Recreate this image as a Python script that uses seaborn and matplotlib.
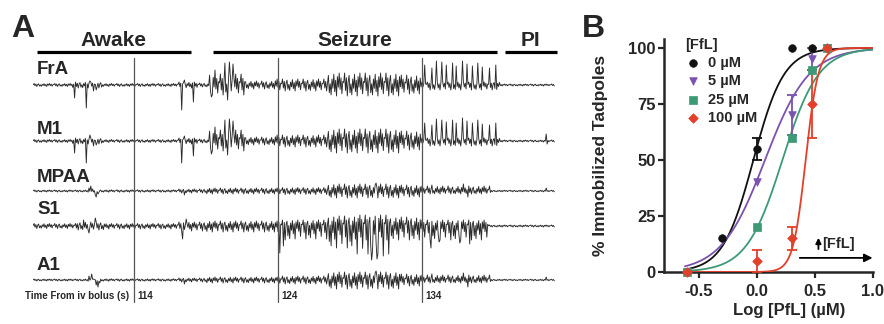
import numpy as np
import pandas as pd
import matplotlib.pyplot as plt
import seaborn as sns

# ---------------- panel A data (amplitudes in px) ----------------
channels = ['FrA', 'M1', 'MPAA', 'S1', 'A1']
time_marks = [114, 124, 134]
epochs = ['Awake', 'Seizure', 'PI']
epoch_spans = [(107.26, 117.96), (119.49, 139.21), (139.76, 143.37)]

# (t_start, t_end, up amplitude, down amplitude)
fra_segments = [(107, 109.7, 1.5, 1.5), (109.7, 111.8, 3, 3), (111.8, 117.0, 1.5, 1.5),
                (117.0, 118.5, 3, 3), (118.5, 119.2, 2, 2), (119.2, 121.7, 11, 10),
                (121.7, 123.8, 4, 4), (123.8, 127.5, 6, 6), (127.5, 132.5, 12, 11),
                (132.5, 134.0, 10, 9), (134.0, 139.4, 3, 5), (139.4, 143.3, 1, 1)]
m1_segments = [(107, 109.7, 1.5, 1.5), (109.7, 111.8, 3, 3), (111.8, 117.0, 1.5, 1.5),
               (117.0, 118.5, 3, 3), (118.5, 119.2, 2, 2), (119.2, 121.7, 11, 10),
               (121.7, 123.8, 4, 4), (123.8, 127.5, 6, 6), (127.5, 132.5, 12, 12),
               (132.5, 134.0, 10, 9), (134.0, 139.4, 3, 5), (139.4, 143.3, 1, 1)]
mpaa_segments = [(107, 110.8, 1, 1), (110.8, 117, 1.2, 1.2), (117, 119, 2, 2),
                 (119, 124, 3, 3), (124, 127.5, 3.5, 3.5), (127.5, 132.5, 7, 7),
                 (132.5, 134, 6, 6), (134, 138.8, 5, 3), (138.8, 143.3, 0.8, 0.8)]
s1_segments = [(107, 110, 2.5, 2.5), (110, 112, 4, 4), (112, 117, 2.5, 3),
               (117, 119, 4, 5), (119, 124, 5, 6), (124, 125, 6, 14),
               (125, 127.5, 6, 13), (127.5, 129.5, 10, 22), (129.5, 131.8, 11, 28),
               (131.8, 134, 9, 14), (134, 138.6, 6, 14), (138.6, 143.3, 1, 1)]
a1_segments = [(107, 110.8, 1, 1), (110.8, 117, 1.2, 1.2), (117, 119, 2, 2),
               (119, 124, 3, 3), (124, 127.5, 4, 4), (127.5, 132.5, 8, 9),
               (132.5, 134, 6, 6), (134, 138.8, 5, 3), (138.8, 143.3, 0.8, 0.8)]

# (time s, deflection px, + is up)
fra_spikes = [(109.9, -13), (110.7, -23), (110.95, 4), (111.2, -6), (111.4, -5),
              (117.3, -25), (117.5, 5), (118.1, -17),
              (119.4, -12), (119.6, 15), (120.3, 22), (120.5, -15), (120.6, 23), (120.9, 21),
              (134.2, 20), (134.7, 17), (135.0, 24), (135.4, 23), (135.7, 20), (136.1, 22),
              (136.4, 19), (136.8, 24), (137.1, 21), (137.5, 19), (137.9, 22), (138.2, 18),
              (138.7, 17), (139.1, 20)]
m1_spikes = [(109.9, -12), (110.7, -22), (110.95, 6), (111.2, -5), (111.4, -4),
             (117.3, -22), (117.5, 5), (118.1, -15),
             (119.4, -13), (119.6, 14), (120.3, 21), (120.5, -14), (120.6, 22), (120.9, 20),
             (134.2, 18), (134.7, 16), (135.0, 22), (135.4, 21), (135.7, 19), (136.1, 21),
             (136.4, 18), (136.8, 23), (137.1, 20), (137.5, 18), (137.9, 21), (138.2, 17),
             (138.7, 16), (139.1, 18), (142.6, 7), (142.7, -3)]
mpaa_spikes = [(110.9, 3), (111.0, 5), (111.15, 2), (111.3, -4), (111.4, -6), (111.5, -3),
               (117.5, -4), (130.8, 8), (134.7, 6), (136.9, 7), (137.2, -6), (142.6, 3)]
s1_spikes = [(110.5, 6), (110.9, -7), (111.3, 8), (117.4, -13), (117.6, 7),
             (124.1, -27), (124.4, -20), (130.5, -34), (130.9, -33), (131.3, -30),
             (134.6, -22), (135.2, -16), (136.6, -17), (137.3, -18)]
a1_spikes = [(110.9, 4), (111.05, 6), (111.2, 1), (111.35, -5), (111.5, -7), (111.6, -3),
             (117.5, -4), (130.8, 9), (134.7, 6), (136.9, 7), (137.2, -7), (142.6, 3)]

# ---------------- panel B data ----------------
conc_labels = ['0 \u00b5M', '5 \u00b5M', '25 \u00b5M', '100 \u00b5M']
log_dose_0 = [-0.602, -0.301, 0.0, 0.301, 0.477]
pct_0 = [0, 15, 55, 100, 100]
err_0 = [0, 0, 5, 0, 0]
log_dose_5 = [-0.602, 0.0, 0.301, 0.477, 0.602]
pct_5 = [0, 40, 70, 95, 100]
err_5 = [0, 0, 9, 5, 0]
log_dose_25 = [-0.602, 0.0, 0.301, 0.477, 0.602]
pct_25 = [0, 20, 60, 90, 100]
err_25 = [0, 0, 0, 0, 0]
log_dose_100 = [-0.602, 0.0, 0.301, 0.477, 0.602]
pct_100 = [0, 5, 15, 75, 100]
err_100 = [0, 5, 5, 15, 0]
# fitted Hill curves: log EC50 and slope
log_ec50 = [-0.03, 0.07, 0.22, 0.42]
hill_slope = [3.3, 2.3, 2.8, 8.0]

sns.set_style('ticks')
plt.rcParams['font.family'] = ['Liberation Sans', 'DejaVu Sans']

W, H = 884, 324
fig = plt.figure(figsize=(W / 100, H / 100), dpi=100)


def fx(px):
    return px / W


def fy(py):
    return 1 - py / H


# ---------------- panel A ----------------
axA = fig.add_axes([33.2 / W, 0, 525.6 / W, 1])
axA.set_xlim(107, 143.5)
axA.set_ylim(H, 0)
axA.axis('off')

baselines = [85, 141, 191, 226, 280]
label_y = [69, 130, 177, 209, 265]
segments = [fra_segments, m1_segments, mpaa_segments, s1_segments, a1_segments]
spikes = [fra_spikes, m1_spikes, mpaa_spikes, s1_spikes, a1_spikes]
wave = [0.2, 1.0, -0.5, 0.6, -1.0, 0.3, 0.8, -0.7, 0.1, -0.9, 0.5, -0.3,
        0.9, -0.6, 0.4, -1.0, 0.7, -0.2, 1.0, -0.4, 0.6, -0.8, 0.3]
t = np.arange(107.0, 143.25, 1 / 16)

for name, base, ly, segs, spk in zip(channels, baselines, label_y, segments, spikes):
    v = np.zeros_like(t)
    for i, ti in enumerate(t):
        m = wave[i % len(wave)]
        for a, b, up, dn in segs:
            if a <= ti < b:
                v[i] = m * up if m > 0 else m * dn
    for ts, amp in spk:
        v[np.argmin(np.abs(t - ts))] = amp
    df = pd.DataFrame({'t': t, 'y': base - v})
    sns.lineplot(data=df, x='t', y='y', ax=axA, color='#2b2b2b', lw=0.65,
                 estimator=None, sort=False)
    fig.text(fx(37), fy(ly), name, fontsize=13.5, weight='bold', va='center')

for tm in time_marks:
    axA.plot([tm, tm], [58, 302], color='#555555', lw=0.9)
    axA.text(tm + 0.2, 296, str(tm), fontsize=7, weight='bold', va='center')
fig.text(fx(25), fy(296), 'Time From iv bolus (s)', fontsize=7, weight='bold', va='center')

for name, (a, b) in zip(epochs, epoch_spans):
    axA.plot([a, b], [52, 52], color='black', lw=2.3, solid_capstyle='butt', clip_on=False)
    axA.text((a + b) / 2, 41, name, ha='center', va='center', fontsize=15, weight='bold')

fig.text(fx(11), fy(29), 'A', fontsize=23, weight='bold', va='center')
fig.text(fx(582), fy(29), 'B', fontsize=23, weight='bold', va='center')

# ---------------- panel B ----------------
axB = fig.add_axes([664 / W, 52 / H, 209 / W, 233 / H])
colors = ['#111111', '#7b52b0', '#3d9a76', '#e2402a']
markers = ['o', 'v', 's', 'D']
doses = [log_dose_0, log_dose_5, log_dose_25, log_dose_100]
pcts = [pct_0, pct_5, pct_25, pct_100]
errs = [err_0, err_5, err_25, err_100]

xs = np.linspace(-0.62, 1.0, 300)
for k in range(4):
    curve = 100 / (1 + 10 ** ((log_ec50[k] - xs) * hill_slope[k]))
    sns.lineplot(x=xs, y=curve, ax=axB, color=colors[k], lw=1.3, zorder=2 + k)
for k in range(4):
    e = np.array(errs[k])
    sel = e > 0
    axB.errorbar(np.array(doses[k])[sel], np.array(pcts[k])[sel], yerr=e[sel], fmt='none',
                 ecolor=colors[k], elinewidth=1.3, capsize=3.5, capthick=1.3, zorder=6 + k)
    sns.scatterplot(x=doses[k], y=pcts[k], ax=axB, color=colors[k], marker=markers[k],
                    s=30 if markers[k] != 'D' else 24, edgecolor=colors[k], linewidth=0.5,
                    label=conc_labels[k], zorder=10 + k, clip_on=False)

axB.set_xlim(-0.8, 1.0)
axB.set_ylim(0, 104)
axB.set_xticks([-0.5, 0.0, 0.5, 1.0])
axB.set_xticklabels(['-0.5', '0.0', '0.5', '1.0'])
axB.set_yticks([0, 25, 50, 75, 100])
for lab in axB.get_xticklabels() + axB.get_yticklabels():
    lab.set_fontweight('bold')
axB.tick_params(labelsize=12, width=1.6, length=4, pad=2)
axB.tick_params(axis='x', pad=5)
for sp in ['left', 'bottom']:
    axB.spines[sp].set_linewidth(1.8)
sns.despine(ax=axB)
axB.set_xlabel('Log [PfL] (\u00b5M)', fontsize=12, weight='bold')
axB.xaxis.set_label_coords(0.6, -0.135)
axB.set_ylabel('% Immobilized Tadpoles', fontsize=12.5, weight='bold')
axB.yaxis.set_label_coords(-0.268, 0.5)

leg = axB.legend(title='[FfL]', loc='upper left', bbox_to_anchor=(0.05, 1.05), frameon=False,
                 fontsize=10.5, title_fontsize=10.5, handletextpad=0.4, labelspacing=0.3,
                 borderpad=0.2, handlelength=1.2)
leg._legend_box.align = 'left'
for txt in leg.get_texts():
    txt.set_fontweight('bold')
leg.get_title().set_fontweight('bold')

axB.annotate('', xy=(1.02, 6.3), xytext=(0.345, 6.3),
             arrowprops=dict(arrowstyle='-|>', color='black', lw=1.3, mutation_scale=12),
             annotation_clip=False)
axB.annotate('', xy=(0.53, 16.5), xytext=(0.53, 9),
             arrowprops=dict(arrowstyle='-|>', color='black', lw=1.3, mutation_scale=8))
axB.text(0.56, 12.5, '[FfL]', fontsize=10.5, weight='bold', va='center')

fig.savefig('out.png', dpi=100)
